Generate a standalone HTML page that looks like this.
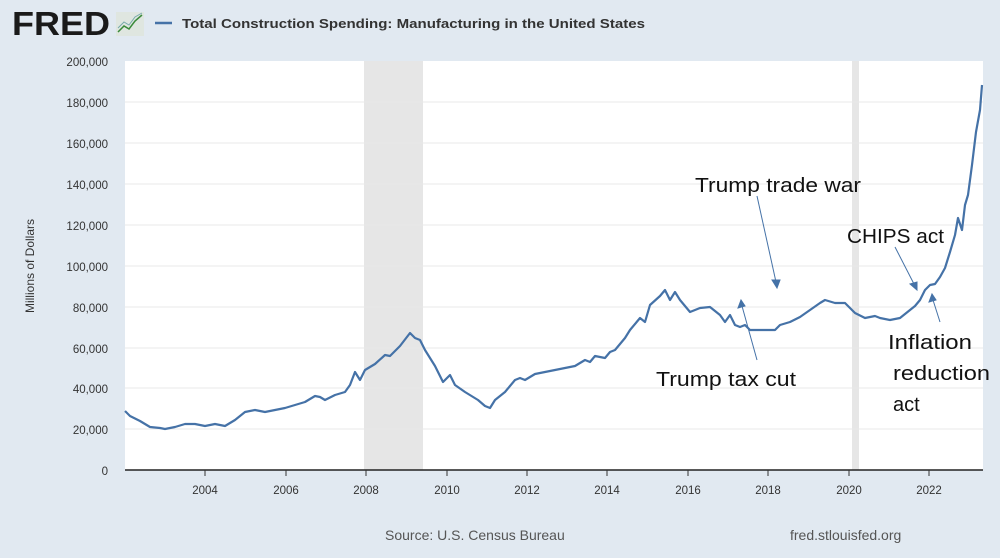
<!DOCTYPE html>
<html><head><style>
body{margin:0;width:1000px;height:553px;background:#e1e9f1;overflow:hidden;font-family:"Liberation Sans",sans-serif}
</style></head><body>
<svg width="1000" height="553" viewBox="0 0 1000 553" xmlns="http://www.w3.org/2000/svg" font-family="Liberation Sans, sans-serif">
<rect width="1000" height="553" fill="#e1e9f1"/>
<text x="12" y="35" font-size="33" font-weight="bold" fill="#1a1a1a" textLength="98" lengthAdjust="spacingAndGlyphs">FRED</text>
<rect x="116" y="12" width="28" height="24" fill="#dfe6e0"/>
<polyline points="118,32 124,26 129,29 135,21 142,15" fill="none" stroke="#3a8a3a" stroke-width="1.5"/>
<polyline points="118,28 124,22 129,25 135,17 142,13" fill="none" stroke="#7aa" stroke-width="1"/>
<line x1="155" y1="23" x2="172" y2="23" stroke="#4572a7" stroke-width="2.5"/>
<text x="182" y="28" font-size="13" font-weight="bold" fill="#333" textLength="463" lengthAdjust="spacingAndGlyphs">Total Construction Spending: Manufacturing in the United States</text>
<rect x="125" y="61" width="858" height="409" fill="#fff"/>
<rect x="364" y="61" width="59" height="409" fill="#e6e6e6"/>
<rect x="852" y="61" width="7" height="409" fill="#e6e6e6"/>
<g stroke="#e8e8e8" stroke-width="1">
<line x1="125" x2="983" y1="102" y2="102"/><line x1="125" x2="983" y1="143" y2="143"/><line x1="125" x2="983" y1="184" y2="184"/><line x1="125" x2="983" y1="225" y2="225"/><line x1="125" x2="983" y1="266" y2="266"/><line x1="125" x2="983" y1="307" y2="307"/><line x1="125" x2="983" y1="348" y2="348"/><line x1="125" x2="983" y1="388" y2="388"/><line x1="125" x2="983" y1="429" y2="429"/>
</g>
<line x1="125" x2="983" y1="470" y2="470" stroke="#222" stroke-width="1.5"/>
<g font-size="11.5" fill="#333" text-anchor="end">
<text x="108" y="66">200,000</text><text x="108" y="107">180,000</text><text x="108" y="148">160,000</text><text x="108" y="189">140,000</text><text x="108" y="230">120,000</text><text x="108" y="271">100,000</text><text x="108" y="312">80,000</text><text x="108" y="353">60,000</text><text x="108" y="393">40,000</text><text x="108" y="434">20,000</text><text x="108" y="475">0</text>
</g>
<g font-size="11.5" fill="#333" text-anchor="middle">
<text x="205" y="494">2004</text><text x="286" y="494">2006</text><text x="366" y="494">2008</text><text x="447" y="494">2010</text><text x="527" y="494">2012</text><text x="607" y="494">2014</text><text x="688" y="494">2016</text><text x="768" y="494">2018</text><text x="849" y="494">2020</text><text x="929" y="494">2022</text>
</g>
<g stroke="#333" stroke-width="1"><line x1="205" y1="470" x2="205" y2="476"/><line x1="286" y1="470" x2="286" y2="476"/><line x1="366" y1="470" x2="366" y2="476"/><line x1="447" y1="470" x2="447" y2="476"/><line x1="527" y1="470" x2="527" y2="476"/><line x1="607" y1="470" x2="607" y2="476"/><line x1="688" y1="470" x2="688" y2="476"/><line x1="768" y1="470" x2="768" y2="476"/><line x1="849" y1="470" x2="849" y2="476"/><line x1="929" y1="470" x2="929" y2="476"/></g>
<text transform="translate(34,266) rotate(-90)" font-size="12" fill="#333" text-anchor="middle">Millions of Dollars</text>
<polyline fill="none" stroke="#4572a7" stroke-width="2.2" stroke-linejoin="round" points="125,411 130,416 140,421 150,427 160,428 165,429 175,427 185,424 195,424 205,426 215,424 225,426 235,420 245,412 255,410 265,412 275,410 285,408 295,405 305,402 315,396 320,397 325,400 335,395 345,392 350,385 355,372 360,380 365,370 375,364 385,355 390,356 400,346 410,333 415,338 420,340 425,350 435,366 443,382 450,375 455,385 465,392 478,400 485,406 490,408 495,400 505,392 515,380 520,378 525,380 535,374 545,372 555,370 565,368 575,366 585,360 590,362 595,356 605,358 610,352 615,350 625,338 630,330 640,318 645,322 650,305 660,296 665,290 670,300 675,292 680,300 690,312 700,308 710,307 720,315 725,322 730,315 735,325 740,327 745,325 750,330 760,330 770,330 775,330 780,325 790,322 800,317 810,310 820,303 825,300 835,303 845,303 855,313 865,318 875,316 880,318 890,320 900,318 910,310 915,306 920,300 925,290 930,285 935,284 940,277 945,268 950,252 955,235 958,218 962,230 965,205 968,195 972,165 976,132 980,110 982,85"/>
<g font-size="20" fill="#111">
<text x="695" y="192" textLength="166" lengthAdjust="spacingAndGlyphs">Trump trade war</text>
<text x="847" y="243" textLength="97" lengthAdjust="spacingAndGlyphs">CHIPS act</text>
<text x="656" y="386" textLength="140" lengthAdjust="spacingAndGlyphs">Trump tax cut</text>
<text x="888" y="349" textLength="84" lengthAdjust="spacingAndGlyphs">Inflation</text>
<text x="893" y="380" textLength="97" lengthAdjust="spacingAndGlyphs">reduction</text>
<text x="893" y="411">act</text>
</g>
<g stroke="#4572a7" stroke-width="1" fill="#4572a7">
<line x1="757" y1="196" x2="776" y2="282"/><polygon points="772,280 780,280 777,288"/>
<line x1="757" y1="360" x2="742" y2="306"/><polygon points="738,308 745,306 741,300"/>
<line x1="895" y1="247" x2="914" y2="284"/><polygon points="910,284 917,282 917,290"/>
<line x1="940" y1="322" x2="933" y2="300"/><polygon points="929,302 936,300 932,294"/>
</g>
<g font-size="14" fill="#555">
<text x="385" y="540">Source: U.S. Census Bureau</text>
<text x="790" y="540">fred.stlouisfed.org</text>
</g>
</svg>
</body></html>
